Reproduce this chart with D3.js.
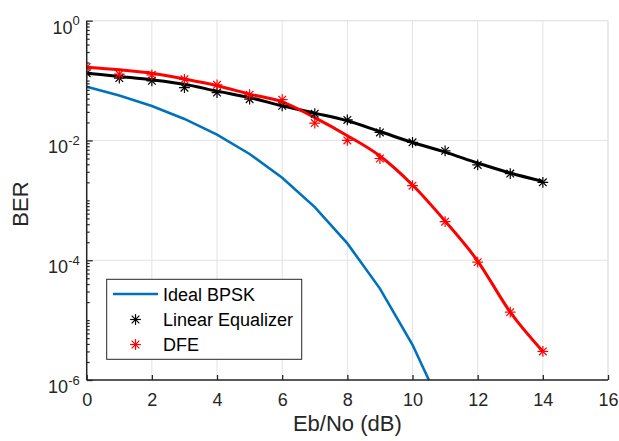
<!DOCTYPE html>
<html><head><meta charset="utf-8">
<script src="https://cdn.jsdelivr.net/npm/d3@7"></script>
<style>
body{margin:0;background:#fff;}
svg{display:block;font-family:Arial,"Liberation Sans",Helvetica,sans-serif;}
</style></head>
<body><svg id="c" width="619" height="441"></svg>
<script>
const ebno = [0,1,2,3,4,5,6,7,8,9,10,11,12,13,14];
const berIdeal = [0.0786,0.0563,0.0375,0.0229,0.0125,0.00595,0.00239,7.73e-4,1.91e-4,3.36e-5,3.87e-6,2.61e-7];
const berLE = [0.133,0.11,0.099,0.076,0.063,0.049,0.038,0.028,0.022,0.0136,0.0093,0.0067,0.0039,0.0028,0.002];
const fitLE = [0.133,0.117,0.103,0.087,0.0666,0.052,0.0379,0.0286,0.0213,0.0141,0.00926,0.0064,0.0042,0.00286,0.00207];
const berDFE = [0.167,0.128,0.125,0.105,0.085,0.058,0.048,0.0195,0.01,0.005,0.00176,4.4e-4,9.3e-5,1.36e-5,3.0e-6];
const fitDFE = [0.167,0.151,0.133,0.106,0.082,0.0595,0.044,0.024,0.012,0.0055,0.0018,4.5e-4,9.7e-5,1.36e-5,3.0e-6];
const xTicks = [0,2,4,6,8,10,12,14,16];
const yTickExps = [0,-2,-4,-6];
const legendLabels = ["Ideal BPSK","Linear Equalizer","DFE"];

const svg = d3.select("#c");
const L = 86.7, R = 608, T = 20.7, B = 380;
const x = d3.scaleLinear().domain([0,16]).range([L,R]);
const y = d3.scaleLog().domain([1e-6,1]).range([B,T]);
const gridC = "#e3e3e3", axC = "#262626";

svg.append("defs").append("clipPath").attr("id","clip")
  .append("rect").attr("x",L).attr("y",T).attr("width",R-L).attr("height",B-T);

const g = svg.append("g");
g.selectAll(".vg").data(xTicks).join("line")
  .attr("x1",d=>x(d)).attr("x2",d=>x(d)).attr("y1",T).attr("y2",B)
  .attr("stroke",gridC).attr("stroke-width",1);
g.selectAll(".hg").data(yTickExps).join("line")
  .attr("x1",L).attr("x2",R).attr("y1",d=>y(Math.pow(10,d))).attr("y2",d=>y(Math.pow(10,d)))
  .attr("stroke",gridC).attr("stroke-width",1);
svg.append("line").attr("x1",L).attr("x2",R).attr("y1",T).attr("y2",T).attr("stroke",gridC);
svg.append("line").attr("x1",R).attr("x2",R).attr("y1",T).attr("y2",B).attr("stroke",gridC);

const plot = svg.append("g").attr("clip-path","url(#clip)");
const lineLin = d3.line().x((d,i)=>x(ebno[i])).y(d=>y(d));
const lineSmooth = d3.line().x((d,i)=>x(ebno[i])).y(d=>y(d)).curve(d3.curveMonotoneX);

plot.append("path").datum(berIdeal).attr("d",lineLin)
  .attr("fill","none").attr("stroke","#0072BD").attr("stroke-width",2.6);
plot.append("path").datum(fitLE).attr("d",lineSmooth)
  .attr("fill","none").attr("stroke","#000").attr("stroke-width",3);
plot.append("path").datum(fitDFE).attr("d",lineSmooth)
  .attr("fill","none").attr("stroke","#ff0000").attr("stroke-width",3);

function star(sel, r){
  const a = r*0.7071;
  sel.append("line").attr("x1",-r).attr("x2",r).attr("y1",0).attr("y2",0);
  sel.append("line").attr("x1",0).attr("x2",0).attr("y1",-r).attr("y2",r);
  sel.append("line").attr("x1",-a).attr("x2",a).attr("y1",-a).attr("y2",a);
  sel.append("line").attr("x1",-a).attr("x2",a).attr("y1",a).attr("y2",-a);
}
function markers(data, color){
  plot.append("g").selectAll("g").data(data).join("g")
    .attr("transform",(d,i)=>`translate(${x(ebno[i])},${y(d)})`)
    .attr("stroke",color).attr("stroke-width",1.2)
    .each(function(){ star(d3.select(this),5.4); });
}
markers(berLE,"#000");
markers(berDFE,"#ff0000");

const xAx = svg.append("g").attr("transform",`translate(0,${B})`)
  .call(d3.axisBottom(x).tickValues(xTicks).tickSize(-5).tickPadding(10).tickFormat(d3.format("d")));
xAx.select(".domain").attr("stroke",axC).attr("stroke-width",1.5).attr("d",`M${L},0H${R}`);
xAx.selectAll(".tick line").attr("stroke",axC).attr("stroke-width",1.3);
xAx.selectAll(".tick text").attr("fill",axC).attr("font-size",18).attr("dy","0.9em");

const minor = [];
for(let e=-6;e<0;e++) for(let m=1;m<=9;m++){ if(!(m===1 && e%2===0)) minor.push(m*Math.pow(10,e)); }
const yMin = svg.append("g").attr("transform",`translate(${L},0)`)
  .call(d3.axisLeft(y).tickValues(minor).tickSize(-3).tickFormat(""));
yMin.select(".domain").remove();
yMin.selectAll(".tick line").attr("stroke",axC).attr("stroke-width",1.2);

const yAx = svg.append("g").attr("transform",`translate(${L},0)`)
  .call(d3.axisLeft(y).tickValues(yTickExps.map(e=>Math.pow(10,e))).tickSize(-6).tickFormat(""));
yAx.select(".domain").attr("stroke",axC).attr("stroke-width",1.5).attr("d",`M0,${B}V${T}`);
yAx.selectAll(".tick line").attr("stroke",axC).attr("stroke-width",1.3);
yAx.selectAll(".tick").each(function(d){
  const e = Math.round(Math.log10(d));
  const t = d3.select(this).append("text").attr("fill",axC).attr("text-anchor","end")
    .attr("x",-7).attr("y",12.5).attr("font-size",18);
  t.append("tspan").text("10");
  t.append("tspan").attr("dy",-8.5).attr("font-size",13).text(String(e));
});

svg.append("text").attr("x",(L+R)/2).attr("y",431).attr("text-anchor","middle")
  .attr("font-size",22).attr("fill",axC).text("Eb/No (dB)");
svg.append("text").attr("transform",`translate(28,204) rotate(-90)`).attr("text-anchor","middle")
  .attr("font-size",22).attr("fill",axC).text("BER");

const lg = svg.append("g");
lg.append("rect").attr("x",106.7).attr("y",279.3).attr("width",195).attr("height",80)
  .attr("fill","#fff").attr("stroke","#262626").attr("stroke-width",1);
const rows = [294,319.5,344.5];
lg.append("line").attr("x1",113).attr("x2",158).attr("y1",rows[0]).attr("y2",rows[0])
  .attr("stroke","#0072BD").attr("stroke-width",2.6);
[["#000",rows[1]],["#ff0000",rows[2]]].forEach(([c,yy])=>{
  const m = lg.append("g").attr("transform",`translate(135.5,${yy})`).attr("stroke",c).attr("stroke-width",1.2);
  star(m,5.4);
});
lg.selectAll(".lt").data(legendLabels).join("text")
  .attr("x",163).attr("y",(d,i)=>rows[i]+6.5).attr("font-size",18).attr("fill","#000").text(d=>d);
</script></body></html>
